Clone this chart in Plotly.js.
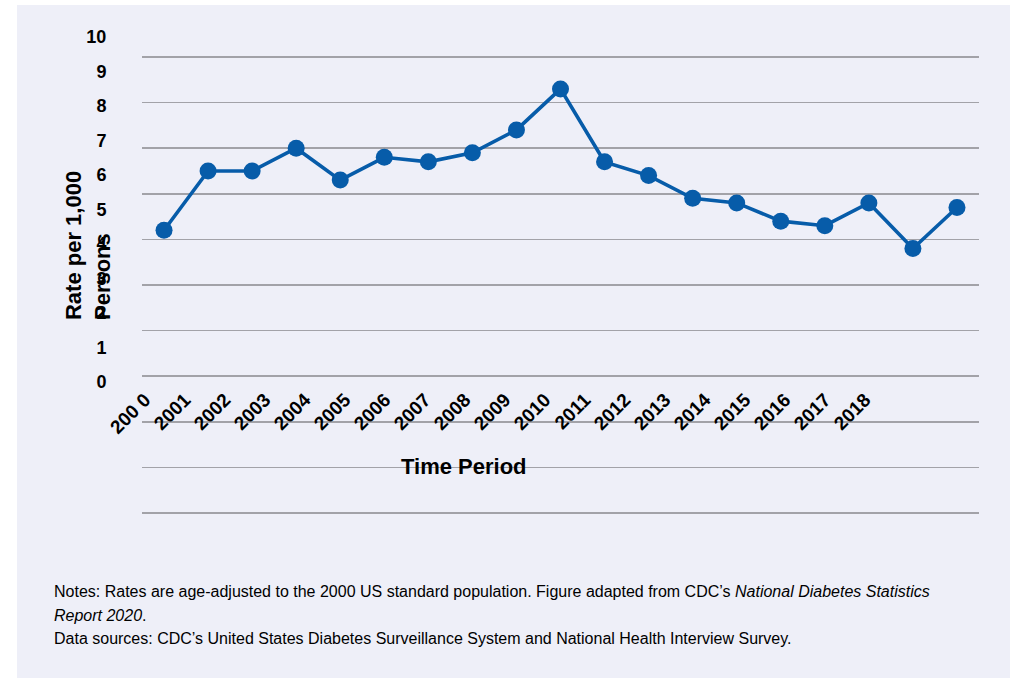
<!DOCTYPE html>
<html>
<head>
<meta charset="utf-8">
<script src="https://cdn.plot.ly/plotly-3.0.1.min.js"></script>
<style>
  html, body { margin: 0; padding: 0; background: #ffffff; width: 1010px; height: 678px; overflow: hidden; }
  #chart { position: absolute; left: 17px; top: 5px; width: 993px; height: 673px; }
</style>
</head>
<body>
<div id="chart"></div>
<script>
// Incidence of diagnosed diabetes, rate per 1,000 persons
const years = [2000, 2001, 2002, 2003, 2004, 2005, 2006, 2007, 2008, 2009,
               2010, 2011, 2012, 2013, 2014, 2015, 2016, 2017, 2018];
const rates = [6.2, 7.5, 7.5, 8.0, 7.3, 7.8, 7.7, 7.9, 8.4, 9.3,
               7.7, 7.4, 6.9, 6.8, 6.4, 6.3, 6.8, 5.8, 6.7];

// Axis labels as printed
const yearLabels = ['200 0', '2001', '2002', '2003', '2004', '2005', '2006', '2007', '2008', '2009',
                    '2010', '2011', '2012', '2013', '2014', '2015', '2016', '2017', '2018'];
const rateTicks = [0, 1, 2, 3, 4, 5, 6, 7, 8, 9, 10];

const FONT = 'Liberation Sans, Arial, Helvetica, sans-serif';
const BLUE = '#075CA9';

const traces = [
  {
    x: years, y: rates, type: 'scatter', mode: 'lines+markers',
    xaxis: 'x', yaxis: 'y',
    line: { color: BLUE, width: 3.6 },
    marker: { color: BLUE, size: 17 },
    hoverinfo: 'skip', showlegend: false
  },
  {
    // label axes share this (empty) subplot
    x: years, y: years.map(() => null), type: 'scatter', mode: 'lines',
    xaxis: 'x2', yaxis: 'y2', hoverinfo: 'skip', showlegend: false
  }
];

const layout = {
  width: 993, height: 673,
  margin: { l: 125, r: 31, t: 15, b: 162 },
  paper_bgcolor: '#EEEFF8',
  plot_bgcolor: 'rgba(0,0,0,0)',
  showlegend: false,
  hovermode: false,
  font: { family: FONT, color: '#000000' },
  xaxis: {
    domain: [0, 1], anchor: 'y', range: [1999.5, 2018.5],
    showgrid: false, zeroline: false, showline: false, showticklabels: false, ticks: '',
    fixedrange: true
  },
  yaxis: {
    domain: [0, 0.93004], anchor: 'x', range: [-0.0658, 10.05], tick0: 0, dtick: 1,
    showgrid: true, gridcolor: '#A2A2A8', gridwidth: 1.5,
    zeroline: false, showline: false, showticklabels: false, ticks: '',
    fixedrange: true
  },
  xaxis2: {
    domain: [0, 1], anchor: 'free', position: 0.266, range: [1999.925, 2020.85],
    tickmode: 'array', tickvals: years, ticktext: yearLabels, tickangle: -45,
    tickfont: { family: FONT, size: 19, weight: 'bold', color: '#000000' },
    showgrid: false, zeroline: false, showline: false, ticks: '',
    fixedrange: true
  },
  yaxis2: {
    domain: [0, 1], anchor: 'free', position: 0, range: [-3.893, 10.484],
    tickmode: 'array', tickvals: rateTicks, ticktext: rateTicks.map(String),
    tickfont: { family: FONT, size: 18, weight: 'bold', color: '#000000' },
    ticks: 'outside', ticklen: 32, tickcolor: 'rgba(0,0,0,0)',
    showgrid: false, zeroline: false, showline: false,
    fixedrange: true
  },
  annotations: [
    {
      text: 'Rate per 1,000<br>Persons', textangle: -90, align: 'left',
      xref: 'paper', yref: 'paper', x: -0.0651, y: 0.3911,
      xanchor: 'center', yanchor: 'bottom', showarrow: false,
      font: { family: FONT, size: 22, weight: 'bold', color: '#000000' }
    },
    {
      text: 'Time Period',
      xref: 'paper', yref: 'paper', x: 0.3847, y: 0.0988,
      xanchor: 'center', yanchor: 'middle', showarrow: false,
      font: { family: FONT, size: 22, weight: 'bold', color: '#000000' }
    },
    {
      text: 'Notes: Rates are age-adjusted to the 2000 US standard population. Figure adapted from CDC\u2019s <i>National Diabetes Statistics</i>',
      xref: 'paper', yref: 'paper', x: -0.1075, y: -0.1532,
      xanchor: 'left', yanchor: 'middle', showarrow: false,
      font: { family: FONT, size: 16, color: '#000000' }
    },
    {
      text: '<i>Report 2020</i>.',
      xref: 'paper', yref: 'paper', x: -0.1075, y: -0.1996,
      xanchor: 'left', yanchor: 'middle', showarrow: false,
      font: { family: FONT, size: 16, color: '#000000' }
    },
    {
      text: 'Data sources: CDC\u2019s United States Diabetes Surveillance System and National Health Interview Survey.',
      xref: 'paper', yref: 'paper', x: -0.1075, y: -0.2460,
      xanchor: 'left', yanchor: 'middle', showarrow: false,
      font: { family: FONT, size: 16, color: '#000000' }
    }
  ]
};

Plotly.newPlot('chart', traces, layout, { displayModeBar: false, staticPlot: true });
</script>
</body>
</html>
